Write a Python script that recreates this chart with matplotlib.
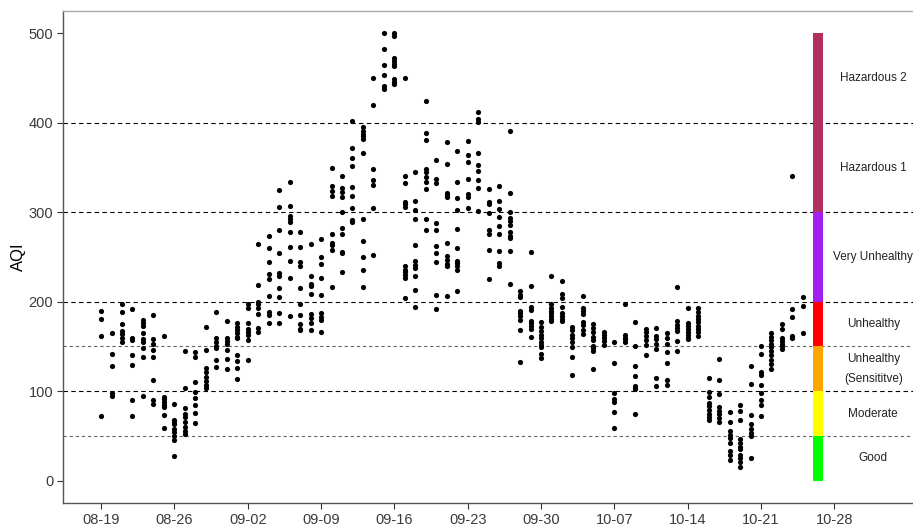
import matplotlib.pyplot as plt
import matplotlib.dates as mdates
import pandas as pd

plt.rcParams['font.family'] = ['Liberation Sans', 'DejaVu Sans']

# daily AQI readings (several monitors per day), starting 2020-08-19
start_date = "2020-08-19"
aqi_by_day = [
    [190, 181, 162, 72],
    [165, 142, 128, 98, 95],
    [198, 188, 175, 167, 164, 160, 155],
    [192, 159, 157, 141, 129, 90, 72],
    [180, 176, 173, 165, 158, 155, 148, 138, 95],
    [185, 158, 153, 146, 138, 112, 90, 86],
    [162, 94, 91, 88, 85, 82, 73, 59],
    [86, 68, 65, 63, 58, 54, 50, 45, 28],
    [145, 104, 81, 75, 71, 65, 60, 56, 52],
    [144, 138, 110, 99, 92, 84, 76, 64],
    [172, 146, 126, 121, 116, 111, 107, 104],
    [189, 159, 155, 151, 148, 135, 127],
    [178, 159, 156, 153, 146, 136, 125],
    [176, 172, 168, 165, 161, 159, 141, 134, 126, 114],
    [197, 193, 176, 170, 166, 163, 157, 135],
    [265, 219, 200, 197, 193, 186, 171, 166],
    [274, 260, 244, 231, 225, 206, 188, 185, 176],
    [325, 306, 280, 255, 232, 229, 215, 205, 187, 176],
    [334, 307, 296, 292, 289, 278, 261, 245, 227, 184],
    [278, 261, 244, 240, 215, 198, 185, 175, 170, 168],
    [264, 229, 220, 218, 209, 186, 182, 176, 168],
    [270, 250, 242, 227, 207, 187, 183, 180, 166],
    [349, 329, 324, 318, 276, 266, 263, 258, 216],
    [341, 327, 323, 317, 300, 282, 276, 256, 254, 233],
    [402, 372, 361, 352, 328, 318, 305, 291, 289],
    [395, 391, 388, 385, 382, 366, 292, 268, 250, 235, 216],
    [450, 420, 348, 336, 330, 305, 252],
    [500, 483, 465, 453, 441, 438],
    [500, 497, 472, 469, 466, 463, 449, 446, 443],
    [450, 341, 333, 312, 309, 306, 240, 236, 233, 230, 226, 204],
    [345, 313, 302, 292, 263, 245, 241, 238, 229, 213, 194],
    [424, 389, 381, 348, 345, 339, 334, 326, 292, 280],
    [358, 337, 333, 288, 280, 262, 254, 244, 208, 192],
    [379, 354, 322, 319, 317, 266, 251, 247, 242, 240, 206],
    [368, 334, 316, 302, 281, 260, 246, 243, 240, 236, 212],
    [380, 364, 356, 337, 320, 317, 305],
    [412, 404, 401, 366, 353, 346, 336, 327, 301],
    [326, 312, 309, 299, 280, 276, 258, 225],
    [329, 313, 304, 295, 285, 276, 257, 243, 240],
    [391, 322, 300, 294, 290, 286, 278, 274, 271, 257, 220],
    [212, 208, 205, 190, 187, 184, 180, 168, 133],
    [256, 218, 194, 191, 179, 176, 173, 170, 161],
    [177, 172, 167, 163, 159, 155, 152, 149, 142, 137],
    [229, 197, 193, 190, 187, 184, 181, 179],
    [223, 209, 204, 194, 187, 184, 181, 178],
    [172, 168, 163, 160, 155, 149, 138, 118],
    [206, 193, 190, 186, 177, 174, 168, 164],
    [175, 171, 166, 161, 157, 151, 148, 145, 125],
    [166, 163, 160, 156, 152],
    [155, 131, 98, 91, 88, 77, 59],
    [198, 163, 160, 158, 155],
    [177, 150, 128, 117, 106, 104, 102, 75],
    [169, 166, 162, 157, 152, 140],
    [171, 162, 158, 153, 147, 115, 106],
    [165, 160, 153, 144, 131, 113, 107],
    [216, 178, 174, 171, 167, 156, 145],
    [193, 176, 173, 170, 166, 163, 160, 158],
    [193, 188, 184, 181, 177, 173, 169, 166, 162],
    [115, 99, 93, 87, 83, 79, 75, 71, 68],
    [136, 113, 97, 82, 78, 75, 70, 66],
    [77, 66, 55, 51, 48, 42, 33, 29, 23],
    [85, 78, 68, 46, 42, 38, 35, 29, 25, 21, 15],
    [128, 108, 73, 63, 58, 53, 50, 25],
    [150, 142, 121, 118, 107, 98, 90, 85, 72],
    [165, 161, 157, 153, 149, 145, 140, 135, 130, 125],
    [175, 169, 159, 156, 153, 150, 147],
    [340, 192, 183, 162, 159],
    [205, 195, 165],
]

tick_dates = ["2020-08-19", "2020-08-26", "2020-09-02", "2020-09-09",
              "2020-09-16", "2020-09-23", "2020-09-30", "2020-10-07",
              "2020-10-14", "2020-10-21", "2020-10-28"]

# AQI categories for the colour scale on the right
cat_names = ["Good", "Moderate", "Unhealthy\n(Sensititve)", "Unhealthy",
             "Very Unhealthy", "Hazardous 1", "Hazardous 2"]
cat_low = [0, 50, 100, 150, 200, 300, 400]
cat_high = [50, 100, 150, 200, 300, 400, 500]
cat_colors = ["#00FF00", "#FFFF00", "#FFA500", "#FF0000",
              "#A020F0", "#B03060", "#B03060"]
solid_cuts = [100, 200, 300, 400]
soft_cuts = [50, 150]


def main():
    days = pd.date_range(start_date, periods=len(aqi_by_day), freq="D")
    xs, ys = [], []
    for day, vals in zip(days, aqi_by_day):
        xs += [day] * len(vals)
        ys += vals

    fig = plt.figure(figsize=(9.13, 5.26), dpi=100)
    ax = fig.add_axes([63 / 913, 23 / 526, 867 / 913, 492 / 526])

    for yv in solid_cuts:
        ax.axhline(yv, color="black", lw=0.8, ls=(0, (4, 3)), zorder=1)
    for yv in soft_cuts:
        ax.axhline(yv, color="#666666", lw=0.8, ls=(0, (3, 2.5)), zorder=1)

    ax.scatter(xs, ys, s=14, color="black", linewidths=0, zorder=3)

    # colour scale bar
    bar_x = pd.Timestamp("2020-10-26 10:00")
    heights = [h - l for l, h in zip(cat_low, cat_high)]
    ax.bar([bar_x] * len(cat_low), heights, bottom=cat_low, width=1.0,
           color=cat_colors, linewidth=0, zorder=2)
    label_x = pd.Timestamp("2020-10-31 17:00")
    for name, lo, hi in zip(cat_names, cat_low, cat_high):
        ax.text(label_x, (lo + hi) / 2, name, ha="center", va="center",
                fontsize=8.5, color="#222222", linespacing=1.9, zorder=4)

    t0 = pd.Timestamp(start_date)
    ax.set_xlim(t0 - pd.Timedelta(days=3.63), t0 + pd.Timedelta(days=79.13))
    ax.set_ylim(-25, 525)
    ax.set_yticks([0, 100, 200, 300, 400, 500])
    ax.set_xticks(pd.to_datetime(tick_dates))
    ax.xaxis.set_major_formatter(mdates.DateFormatter("%m-%d"))
    ax.tick_params(axis="both", length=4, width=0.8, color="#333333",
                   labelsize=10.5, labelcolor="#3A3A3A", pad=3)
    ax.set_ylabel("AQI", fontsize=12, labelpad=2)

    for side in ["left", "bottom"]:
        ax.spines[side].set_color("#555555")
        ax.spines[side].set_linewidth(1.0)
    ax.spines["top"].set_color("#AAAAAA")
    ax.spines["top"].set_linewidth(1.0)
    ax.spines["right"].set_visible(False)

    fig.savefig("out.png", dpi=100)


if __name__ == "__main__":
    main()
